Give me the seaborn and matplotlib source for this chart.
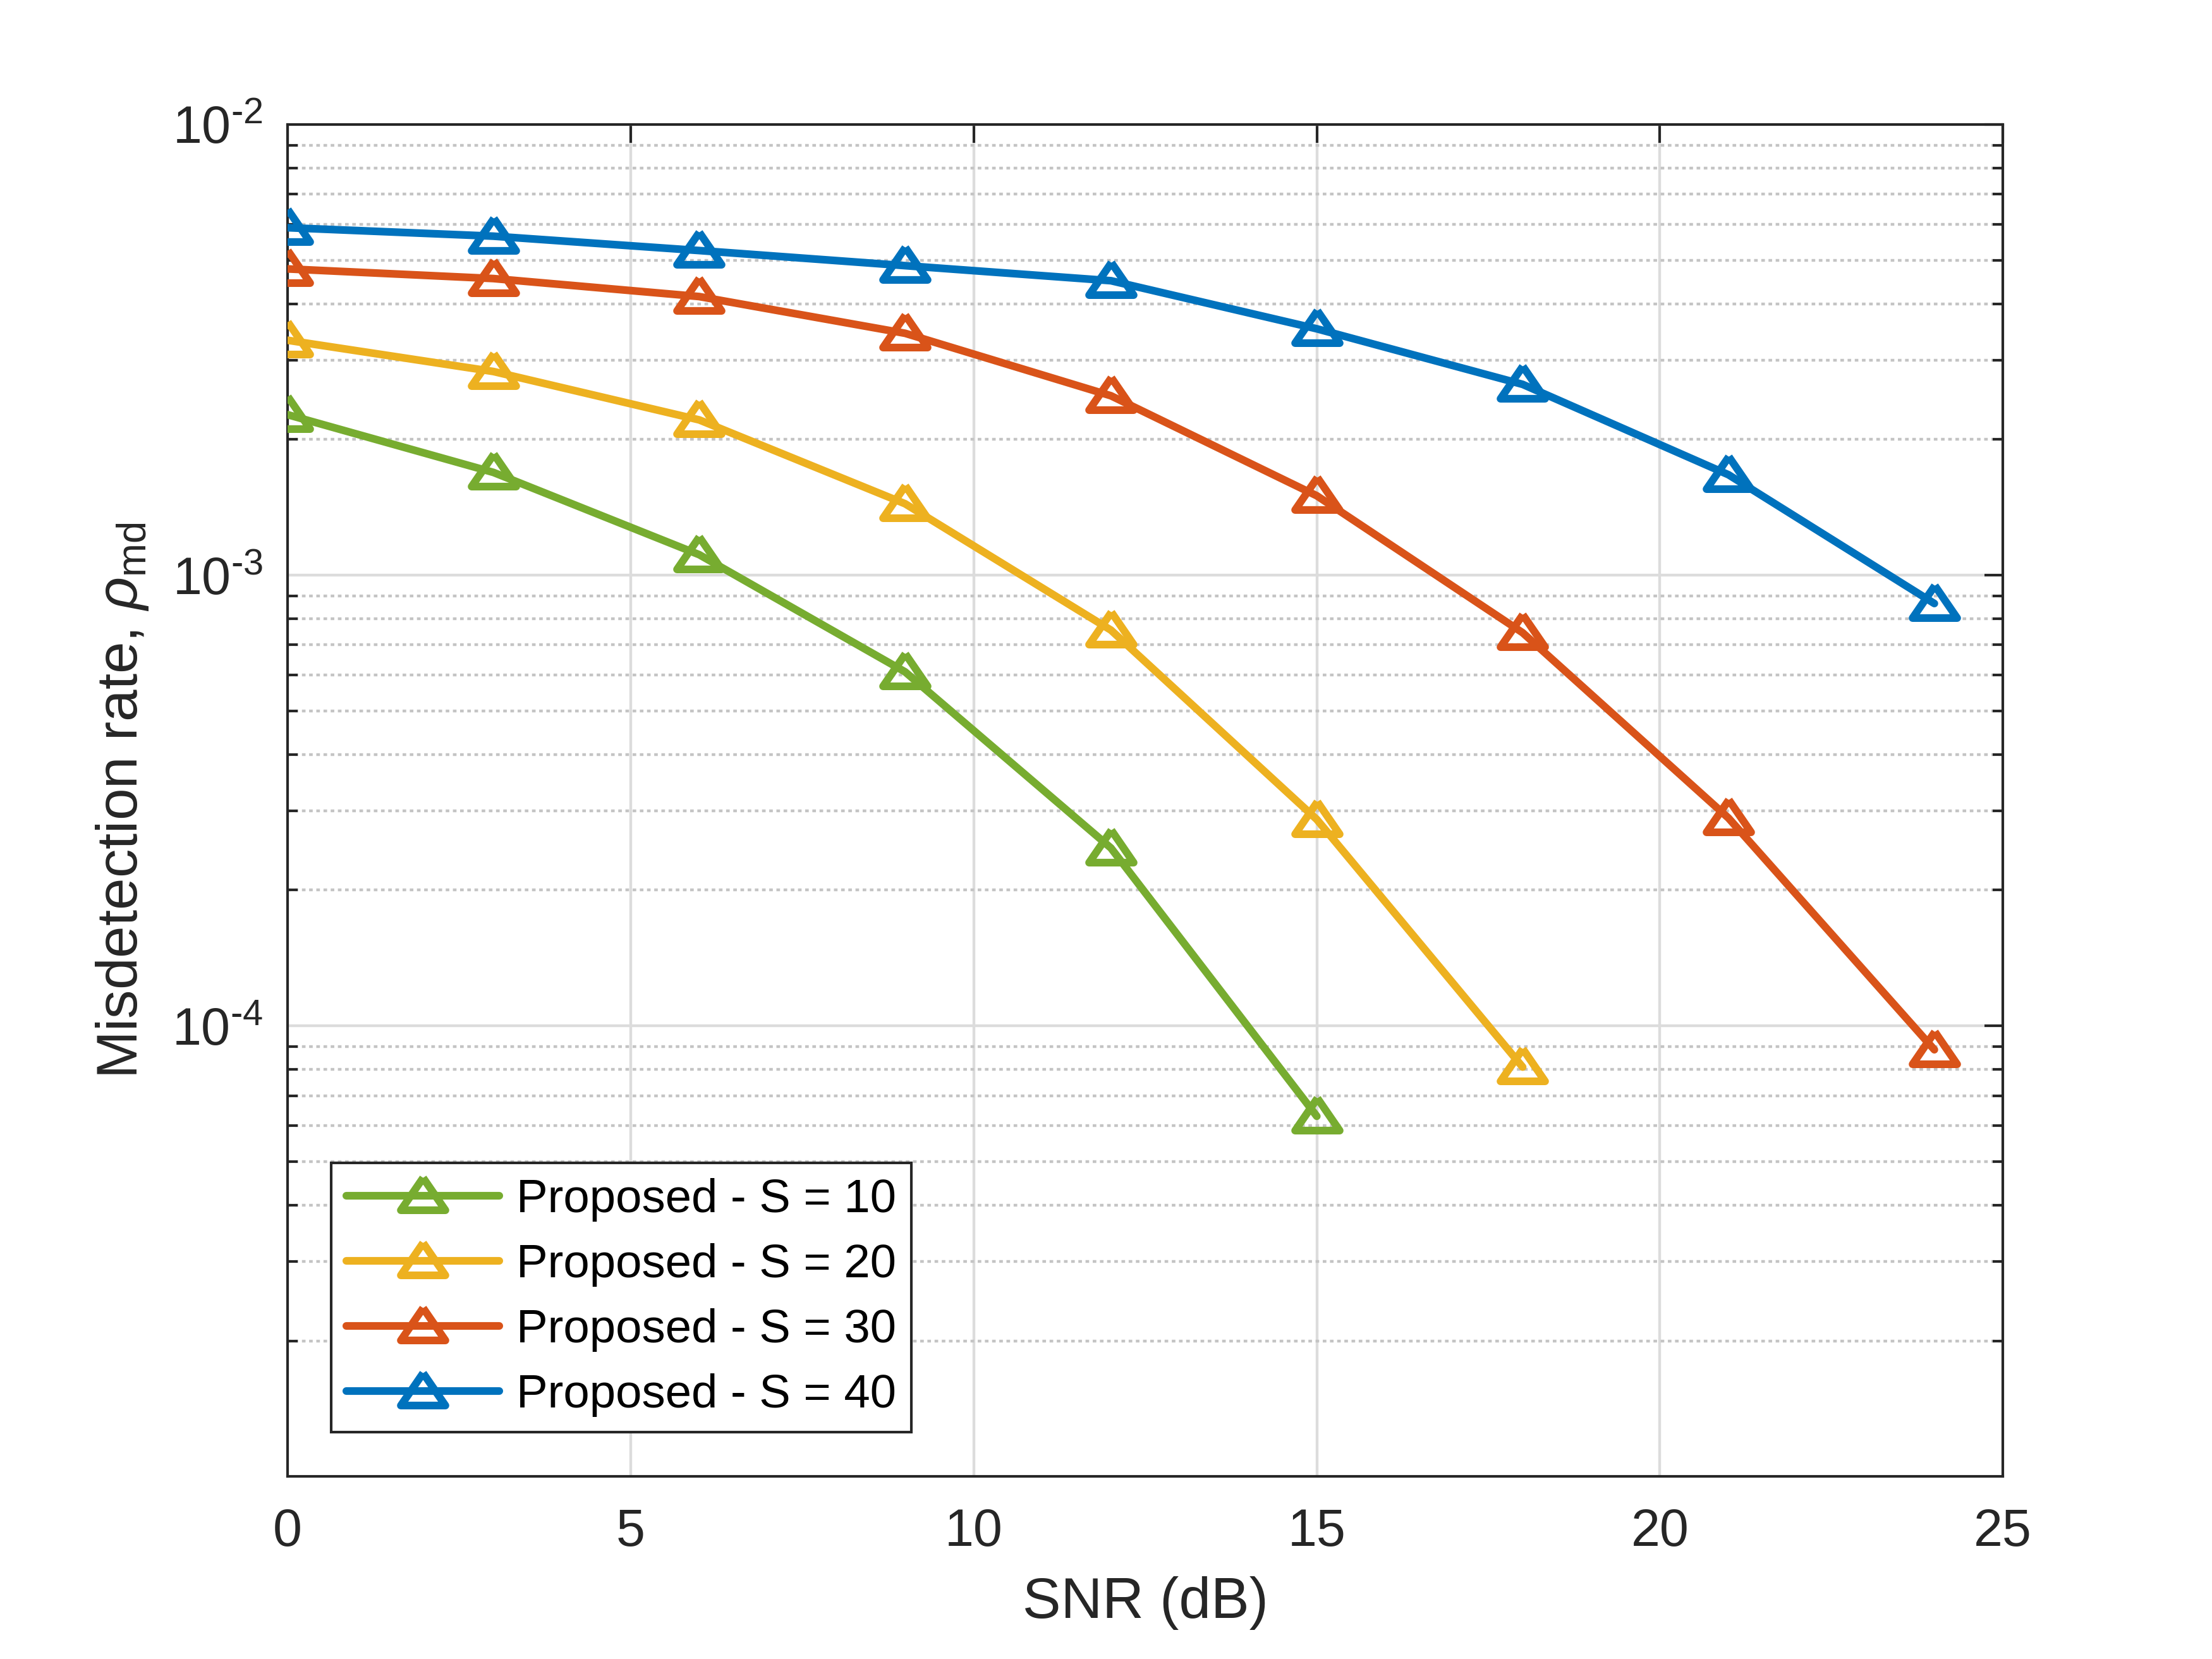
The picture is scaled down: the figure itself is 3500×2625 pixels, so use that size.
import numpy as np
import pandas as pd
import matplotlib
matplotlib.use("Agg")
import matplotlib.pyplot as plt
import seaborn as sns
from matplotlib.ticker import LogLocator, NullFormatter, FixedLocator

# ---------------- data ----------------
snr_s10 = [0, 3, 6, 9, 12, 15]
rate_s10 = [2.27e-3, 1.69e-3, 1.11e-3, 6.1e-4, 2.48e-4, 6.3e-5]

snr_s20 = [0, 3, 6, 9, 12, 15, 18]
rate_s20 = [3.32e-3, 2.83e-3, 2.21e-3, 1.44e-3, 7.55e-4, 2.87e-4, 8.1e-5]

snr_s30 = [0, 3, 6, 9, 12, 15, 18, 21, 24]
rate_s30 = [4.78e-3, 4.55e-3, 4.15e-3, 3.44e-3, 2.5e-3, 1.5e-3, 7.45e-4, 2.89e-4, 8.85e-5]

snr_s40 = [0, 3, 6, 9, 12, 15, 18, 21, 24]
rate_s40 = [5.9e-3, 5.65e-3, 5.25e-3, 4.86e-3, 4.5e-3, 3.52e-3, 2.65e-3, 1.67e-3, 8.65e-4]

series_labels = ["Proposed - S = 10", "Proposed - S = 20",
                 "Proposed - S = 30", "Proposed - S = 40"]
series_colors = ["#77AC30", "#EDB120", "#D95319", "#0072BD"]

x_ticks = [0, 5, 10, 15, 20, 25]
y_ticks = [1e-4, 1e-3, 1e-2]
y_ticklabels = [r"$\mathregular{10^{\text{-}4}}$", r"$\mathregular{10^{\text{-}3}}$",
                r"$\mathregular{10^{\text{-}2}}$"]

# ---------------- style ----------------
sns.set_theme(style="white")
plt.rcParams["font.family"] = ["Liberation Sans", "DejaVu Sans"]
plt.rcParams["mathtext.fontset"] = "custom"
plt.rcParams["mathtext.rm"] = "Liberation Sans"
plt.rcParams["mathtext.it"] = "Liberation Sans:italic"
plt.rcParams["mathtext.bf"] = "Liberation Sans:bold"

axc = "#262626"

fig = plt.figure(figsize=(10, 7.5), dpi=350)
ax = fig.add_axes([0.13, 0.11, 0.7755, 0.815])

tri = [(0, 0.9), (-1.1, -0.7), (1.1, -0.7), (0, 0.9)]

frames = []
for xs, ys, lab in zip([snr_s10, snr_s20, snr_s30, snr_s40],
                       [rate_s10, rate_s20, rate_s30, rate_s40],
                       series_labels):
    frames.append(pd.DataFrame({"snr": xs, "rate": ys, "series": lab}))
df = pd.concat(frames, ignore_index=True)

for lab, col in zip(series_labels, series_colors):
    sub = df[df["series"] == lab]
    sns.lineplot(data=sub, x="snr", y="rate", ax=ax, color=col, label=lab,
                 linewidth=2.5, marker=tri, markersize=14.5,
                 markerfacecolor="none", markeredgecolor=col,
                 markeredgewidth=2.5, sort=False, errorbar=None, zorder=3)

ax.set_yscale("log")
ax.set_xlim(0, 25)
ax.set_ylim(1e-5, 1e-2)

ax.xaxis.set_major_locator(FixedLocator(x_ticks))
ax.set_xticklabels([str(t) for t in x_ticks])
ax.yaxis.set_major_locator(FixedLocator(y_ticks))
ax.set_yticklabels(y_ticklabels)
ax.yaxis.set_minor_locator(LogLocator(base=10, subs=np.arange(2, 10), numticks=20))
ax.yaxis.set_minor_formatter(NullFormatter())

# grid
ax.grid(False)
ax.xaxis.grid(True, which="major", color="#dcdcdc", linewidth=0.9, linestyle="-", zorder=0)
ax.yaxis.grid(True, which="major", color="#dcdcdc", linewidth=0.9, linestyle="-", zorder=0)
ax.yaxis.grid(True, which="minor", color="#c4c4c4", linewidth=0.9,
              linestyle=(0, (1.3, 1.3)), zorder=0)
ax.set_axisbelow(True)

for sp in ax.spines.values():
    sp.set_visible(True)
    sp.set_color(axc)
    sp.set_linewidth(0.85)

ax.tick_params(axis="both", which="major", direction="in", length=6, width=0.85,
               colors=axc, labelsize=17, top=True, right=True, pad=8)
ax.tick_params(axis="y", which="minor", direction="in", length=3.3, width=0.85,
               colors=axc, left=True, right=True)
ax.tick_params(axis="x", which="major", pad=10)

ax.set_xlabel("SNR (dB)", fontsize=18.7, color=axc, labelpad=6.5)
ax.set_ylabel(r"Misdetection rate, $\rho_{\mathregular{md}}$", fontsize=18.7,
              color=axc, labelpad=7)

leg = ax.legend(loc="lower left", bbox_to_anchor=(0.0256, 0.0327), borderaxespad=0,
                fontsize=15.3, frameon=True, fancybox=False, framealpha=1,
                edgecolor=axc, handlelength=3.25, handletextpad=0.36,
                borderpad=0.32, labelspacing=0.46)
leg.get_frame().set_linewidth(0.85)
for t in leg.get_texts():
    t.set_color("black")

fig.savefig("out.png", dpi=350, facecolor="white")
